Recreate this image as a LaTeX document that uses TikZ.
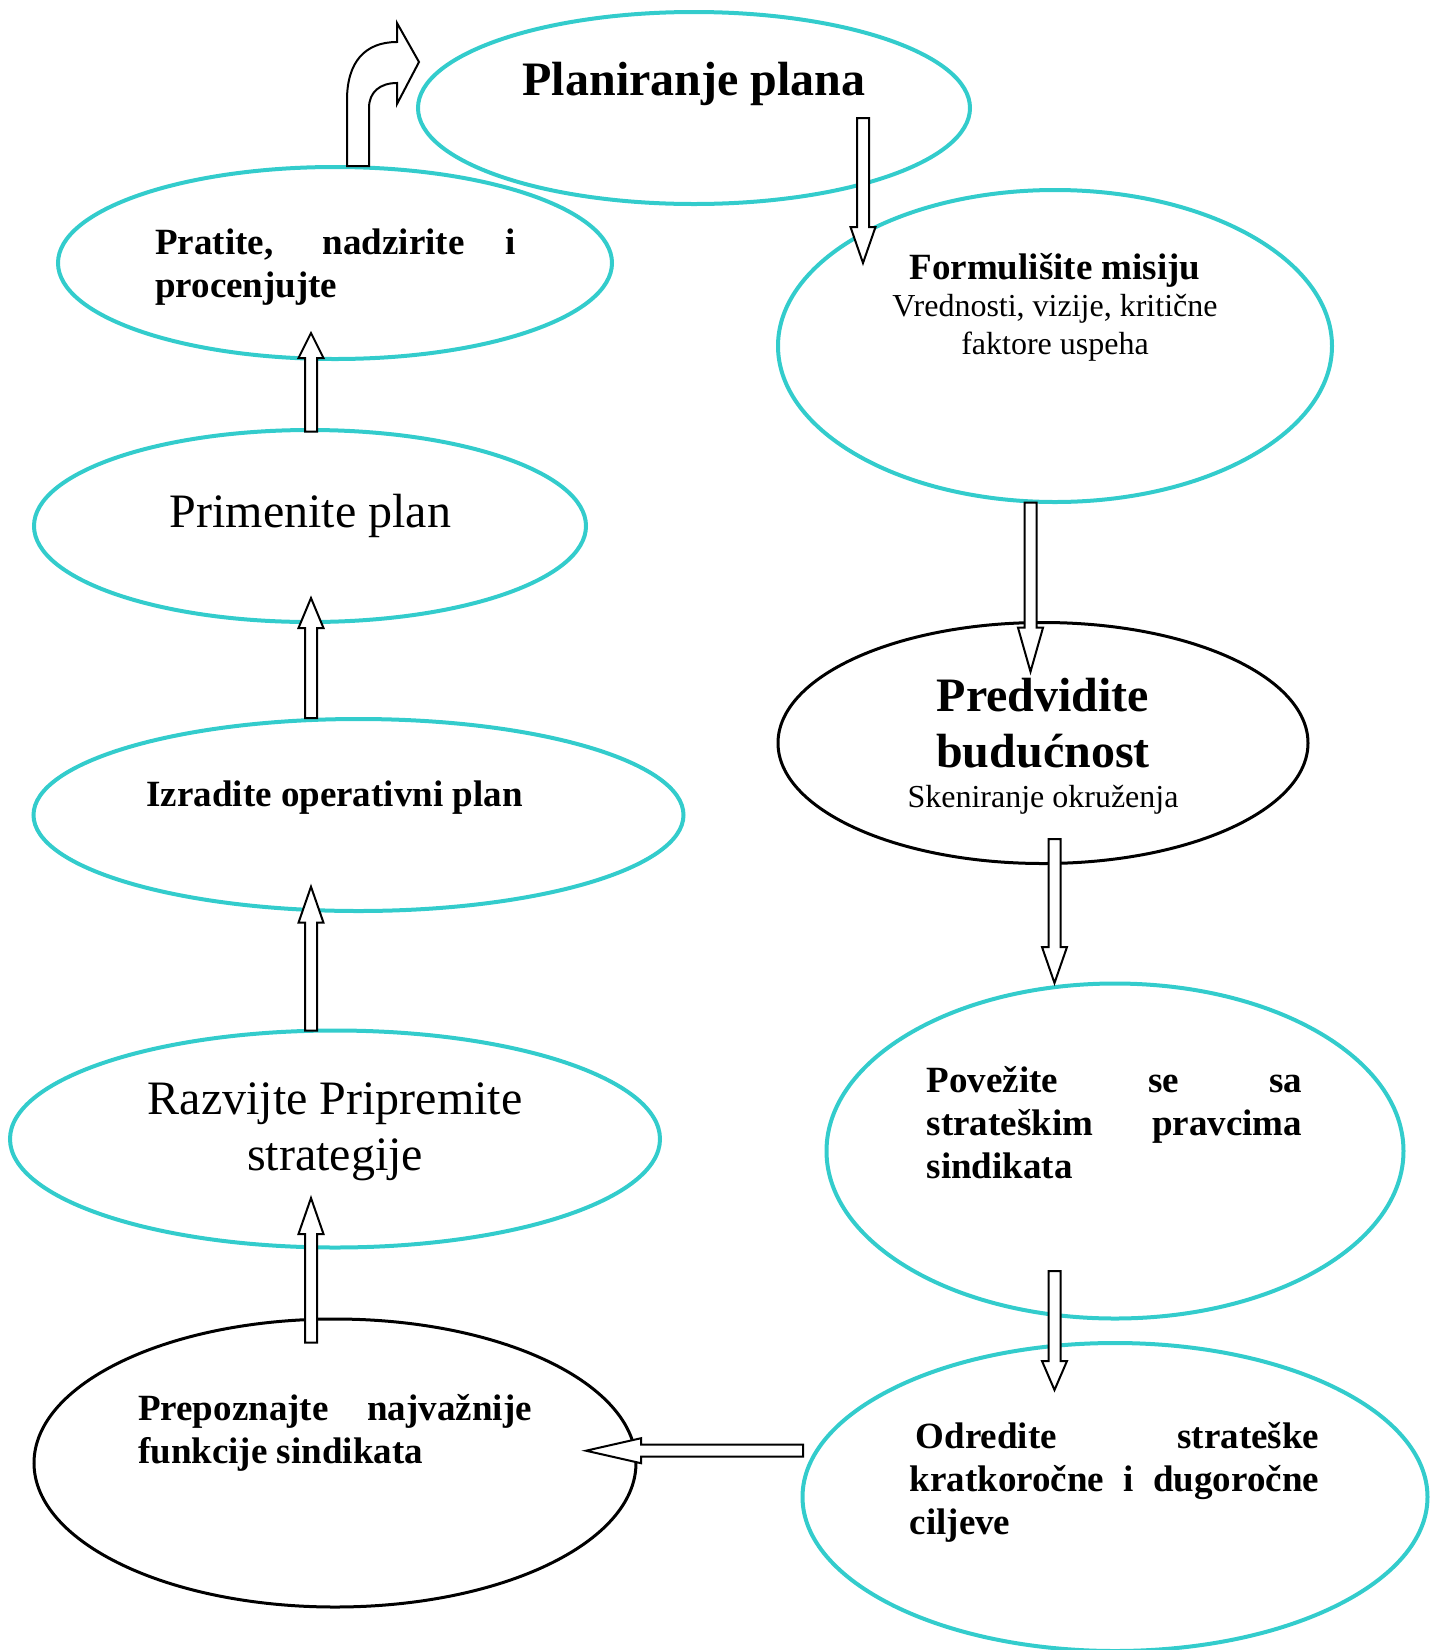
\documentclass[tikz,border=0pt]{standalone}
\usepackage{fontspec}
\setmainfont{Liberation Serif}
\usetikzlibrary{shapes.geometric,calc}
\definecolor{ringcyan}{RGB}{51,204,204}
\tikzset{
  blockarr/.style={draw=black, fill=white, line width=2pt, line join=miter,
    to path={let \p1=(\tikztostart), \p2=(\tikztotarget),
      \p3=($(\p2)!#1pt!(\p1)$) in
      ($(\p1)!6pt!90:(\p2)$) -- ($(\p3)!6pt!-90:(\p1)$)
      -- ($(\p3)!12.5pt!-90:(\p1)$) -- (\p2)
      -- ($(\p3)!12.5pt!90:(\p1)$) -- ($(\p3)!6pt!90:(\p1)$)
      -- ($(\p1)!6pt!-90:(\p2)$) -- cycle}},
  blockarr/.default=36
}
\begin{document}
\begin{tikzpicture}[x=1pt, y=-1pt,
  cyanring/.style={ellipse, draw=ringcyan, line width=4pt, inner sep=0pt},
  blackring/.style={ellipse, draw=black, line width=3pt, inner sep=0pt},
  bigtext/.style={font=\fontsize{48}{56}\selectfont, inner sep=0pt},
  boldtext/.style={font=\fontsize{37}{43}\selectfont\bfseries, inner sep=0pt},
  subtext/.style={font=\fontsize{32}{38}\selectfont, inner sep=0pt}]
  \useasboundingbox (0,0) rectangle (1439,1650);

  \node[cyanring, minimum width=552pt, minimum height=192pt] (plan) at (694,108) {};
  \node[cyanring, minimum width=554pt, minimum height=192pt] (prat) at (335,263) {};
  \node[cyanring, minimum width=552pt, minimum height=192pt] (prim) at (310,526) {};
  \node[cyanring, minimum width=650pt, minimum height=192pt] (izrad) at (358.5,815) {};
  \node[cyanring, minimum width=650pt, minimum height=217pt] (razv) at (335,1139) {};
  \node[blackring, minimum width=602pt, minimum height=288pt] (prep) at (335,1463) {};
  \node[cyanring, minimum width=625pt, minimum height=308pt] (odred) at (1115,1497) {};
  \node[cyanring, minimum width=577pt, minimum height=335pt] (povez) at (1115,1151) {};
  \node[blackring, minimum width=530pt, minimum height=241pt] (predv) at (1043,743) {};
  \node[cyanring, minimum width=554pt, minimum height=312pt] (form) at (1055,346) {};

  \node[bigtext, font=\fontsize{48}{56}\selectfont\bfseries, anchor=base] (tplan) at (694,95) {Planiranje plana};
  \node[boldtext, text width=361pt, align=justify, anchor=north west] (tprat) at (155,229)
    {Pratite, nadzirite i\linebreak procenjujte};
  \node[bigtext, anchor=base] (tprim) at (310.5,527) {Primenite plan};
  \node[boldtext, anchor=base] (tizrad) at (334.5,806) {Izradite operativni plan};
  \node[bigtext, align=center, anchor=north] (trazv) at (335,1083) {Razvijte Pripremite\\strategije};
  \node[boldtext, text width=393.6pt, align=justify, anchor=north west] (tprep) at (138,1394.5)
    {Prepoznajte najvažnije\linebreak funkcije sindikata};
  \node[boldtext, text width=409.5pt, align=justify, anchor=north west] (todred) at (909.5,1422)
    {\hspace*{6pt}Odredite strateške\linebreak kratkoročne i dugoročne\linebreak ciljeve};
  \node[boldtext, text width=375.5pt, align=justify, anchor=north west] (tpovez) at (926.5,1066)
    {Povežite se sa\linebreak strateškim pravcima\linebreak sindikata};
  \node[bigtext, font=\fontsize{48}{56}\selectfont\bfseries, align=center, anchor=north] (tpredv) at (1043,678)
    {Predvidite\\budućnost};
  \node[subtext, anchor=base] (spredv) at (1043,807) {Skeniranje okruženja};
  \node[boldtext, anchor=base] (tform) at (1055,279) {Formulišite misiju};
  \node[subtext, align=center, anchor=north] (sform) at (1055,294) {Vrednosti, vizije, kritične\\faktore uspeha};

  \coordinate (a1) at (863,118);       \coordinate (b1) at (863,263);
  \coordinate (a2) at (1030.5,502.7);  \coordinate (b2) at (1030.5,671.7);
  \coordinate (a3) at (1054.5,839);    \coordinate (b3) at (1054.5,983);
  \coordinate (a4) at (1054.5,1271);   \coordinate (b4) at (1054.5,1390);
  \coordinate (a5) at (803,1450.7);    \coordinate (b5) at (586,1450.7);
  \coordinate (a6) at (311,1342.7);    \coordinate (b6) at (311,1198);
  \coordinate (a7) at (311,1030.7);    \coordinate (b7) at (311,886.7);
  \coordinate (a8) at (311,718);       \coordinate (b8) at (311,598);
  \coordinate (a9) at (311,431.7);     \coordinate (b9) at (311,333);

  \draw[blockarr] (a1) to (b1);
  \draw[blockarr=44] (a2) to (b2);
  \draw[blockarr] (a3) to (b3);
  \draw[blockarr=29] (a4) to (b4);
  \draw[blockarr=55] (a5) to (b5);
  \draw[blockarr] (a6) to (b6);
  \draw[blockarr] (a7) to (b7);
  \draw[blockarr=30] (a8) to (b8);
  \draw[blockarr=25] (a9) to (b9);

  \draw[draw=black, fill=white, line width=2pt, line join=miter]
    (347,166) -- (347,100) .. controls (347,62) and (365,42) .. (397,42)
    -- (397,23) -- (419,62) -- (397,104) -- (397,83)
    .. controls (380,83) and (369,92) .. (369,108) -- (369,166) -- cycle;
\end{tikzpicture}
\end{document}
